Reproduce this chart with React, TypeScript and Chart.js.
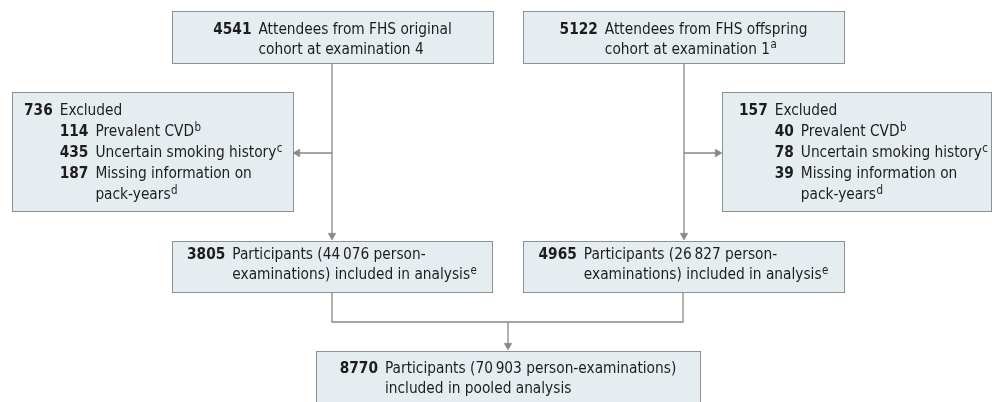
import React, { useEffect, useRef } from "react";
import { Chart, registerables } from "chart.js";

Chart.register(...registerables);

// ---- content ----
const boxCounts = [4541, 5122, 736, 157, 3805, 4965, 8770];
const boxLabels: string[][] = [
  ["Attendees from FHS original", "cohort at examination 4"],
  ["Attendees from FHS offspring", "cohort at examination 1"],
  ["Excluded"],
  ["Excluded"],
  ["Participants (44\u2009076 person-", "examinations) included in analysis"],
  ["Participants (26\u2009827 person-", "examinations) included in analysis"],
  ["Participants (70\u2009903 person-examinations)", "included in pooled analysis"],
];
const boxSups = ["", "a", "", "", "e", "e", ""];
const exclusionCountsOriginal = [114, 435, 187];
const exclusionCountsOffspring = [40, 78, 39];
const exclusionLabels: string[][] = [
  ["Prevalent CVD"],
  ["Uncertain smoking history"],
  ["Missing information on", "pack-years"],
];
const exclusionSups = ["b", "c", "d"];

// ---- layout (in chart value units = px) ----
const boxX0 = [172, 523, 12, 722, 172, 523, 316];
const boxX1 = [493, 844, 293, 991, 492, 844, 700];
const boxY0 = [11, 11, 92, 92, 241, 241, 351];
const boxY1 = [63, 63, 211, 211, 292, 292, 412];
const boxAlign = ["center", "center", "left", "left", "center", "center", "center"];
const boxTextX = [0, 0, 24, 739, 0, 0, 0];
const boxBaseline = [34, 34, 115, 115, 259, 259, 373];
const boxLineH = [19.5, 19.5, 21, 21, 20, 20, 20];

const connectors: { x: number; y: number }[][] = [
  [{ x: 332, y: 63 }, { x: 332, y: 236 }],
  [{ x: 332, y: 153 }, { x: 298, y: 153 }],
  [{ x: 684, y: 63 }, { x: 684, y: 236 }],
  [{ x: 684, y: 153 }, { x: 717, y: 153 }],
  [{ x: 332, y: 292 }, { x: 332, y: 322 }, { x: 683, y: 322 }, { x: 683, y: 292 }],
  [{ x: 508, y: 322 }, { x: 508, y: 346 }],
];
const arrowPoints = [
  { x: 332, y: 235.5 },
  { x: 297.5, y: 153 },
  { x: 684, y: 235.5 },
  { x: 717.5, y: 153 },
  { x: 508, y: 345.5 },
];
const arrowRotations = [180, 270, 180, 90, 180];

const FONT_FAMILY = '"Liberation Sans Narrow", "DejaVu Sans Condensed", "Noto Sans", sans-serif';
const FONT_SIZE = 16;
const SUP_SIZE = 12;
const GAP = 7;
const WIDTH_SCALE = 0.955;
const TEXT_COLOR = "#1f1c1d";
const BOX_FILL = "#e6edf1";
const BOX_STROKE = "#8d9195";
const LINE_COLOR = "#888888";

function fontStr(bold: boolean, size: number) {
  return `${bold ? "bold " : ""}${size}px ${FONT_FAMILY}`;
}

function tw(ctx: CanvasRenderingContext2D, text: string) {
  return ctx.measureText(text).width * WIDTH_SCALE;
}

function put(ctx: CanvasRenderingContext2D, text: string, x: number, y: number) {
  ctx.fillText(text, x, y, tw(ctx, text));
}

function drawLabelLine(ctx: CanvasRenderingContext2D, text: string, sup: string, x: number, y: number) {
  ctx.font = fontStr(false, FONT_SIZE);
  put(ctx, text, x, y);
  if (sup) {
    const w = tw(ctx, text);
    ctx.font = fontStr(false, SUP_SIZE);
    put(ctx, sup, x + w + 0.5, y - 5.5);
  }
}

function labelWidth(ctx: CanvasRenderingContext2D, text: string, sup: string) {
  ctx.font = fontStr(false, FONT_SIZE);
  let w = tw(ctx, text);
  if (sup) {
    ctx.font = fontStr(false, SUP_SIZE);
    w += tw(ctx, sup) + 0.5;
  }
  return w;
}

const flowPlugin = {
  id: "flowBoxes",
  beforeDatasetsDraw(chart: any) {
    const { ctx, scales } = chart;
    const sx = scales.x;
    const sy = scales.y;
    ctx.save();
    for (let i = 0; i < boxCounts.length; i++) {
      const x0 = Math.round(sx.getPixelForValue(boxX0[i])) + 0.5;
      const x1 = Math.round(sx.getPixelForValue(boxX1[i])) + 0.5;
      const y0 = Math.round(sy.getPixelForValue(boxY0[i])) + 0.5;
      const y1 = Math.round(sy.getPixelForValue(boxY1[i])) + 0.5;
      ctx.fillStyle = BOX_FILL;
      ctx.fillRect(x0, y0, x1 - x0, y1 - y0);
      ctx.strokeStyle = BOX_STROKE;
      ctx.lineWidth = 1;
      ctx.strokeRect(x0, y0, x1 - x0, y1 - y0);
    }
    ctx.restore();
  },
  afterDatasetsDraw(chart: any) {
    const { ctx, scales } = chart;
    const sx = scales.x;
    const sy = scales.y;
    ctx.save();
    ctx.fillStyle = TEXT_COLOR;
    ctx.textBaseline = "alphabetic";
    ctx.textAlign = "left";
    for (let i = 0; i < boxCounts.length; i++) {
      const num = String(boxCounts[i]);
      ctx.font = fontStr(true, FONT_SIZE);
      const numW = tw(ctx, num);
      const lines = boxLabels[i];
      const lh = boxLineH[i];
      const baseY = sy.getPixelForValue(boxBaseline[i]);
      let startX: number;
      if (boxAlign[i] === "center") {
        let maxW = 0;
        lines.forEach((l, k) => {
          maxW = Math.max(maxW, labelWidth(ctx, l, k === lines.length - 1 ? boxSups[i] : ""));
        });
        const blockW = numW + GAP + maxW;
        const cx = (sx.getPixelForValue(boxX0[i]) + sx.getPixelForValue(boxX1[i])) / 2;
        startX = cx - blockW / 2;
      } else {
        startX = sx.getPixelForValue(boxTextX[i]);
      }
      ctx.font = fontStr(true, FONT_SIZE);
      put(ctx, num, startX, baseY);
      const labelX = startX + numW + GAP;
      lines.forEach((l, k) => {
        drawLabelLine(ctx, l, k === lines.length - 1 ? boxSups[i] : "", labelX, baseY + k * lh);
      });
      if (i === 2 || i === 3) {
        const counts = i === 2 ? exclusionCountsOriginal : exclusionCountsOffspring;
        let row = 1;
        counts.forEach((c, j) => {
          const sub = String(c);
          ctx.font = fontStr(true, FONT_SIZE);
          const subW = tw(ctx, sub);
          const y = baseY + row * lh;
          put(ctx, sub, labelX, y);
          const subLabelX = labelX + subW + GAP;
          const sl = exclusionLabels[j];
          sl.forEach((t, k) => {
            drawLabelLine(ctx, t, k === sl.length - 1 ? exclusionSups[j] : "", subLabelX, baseY + (row + k) * lh);
          });
          row += sl.length;
        });
      }
    }
    ctx.restore();
  },
};

export default function App() {
  const ref = useRef<HTMLCanvasElement | null>(null);
  useEffect(() => {
    document.body.style.margin = "0";
    if (!ref.current) return;
    const datasets: any[] = connectors.map((pts) => ({
      type: "scatter",
      data: pts,
      showLine: true,
      borderColor: LINE_COLOR,
      borderWidth: 1.3,
      pointRadius: 0,
      fill: false,
      tension: 0,
    }));
    datasets.push({
      type: "scatter",
      data: arrowPoints,
      showLine: false,
      pointStyle: "triangle",
      pointRadius: 4.5,
      rotation: arrowRotations,
      backgroundColor: LINE_COLOR,
      borderColor: LINE_COLOR,
      borderWidth: 0.5,
    });
    const chart = new Chart(ref.current, {
      type: "scatter",
      data: { datasets },
      options: {
        animation: false,
        responsive: false,
        maintainAspectRatio: false,
        devicePixelRatio: 1,
        layout: { padding: 0, autoPadding: false },
        events: [],
        scales: {
          x: { type: "linear", min: 0, max: 992, display: false },
          y: { type: "linear", min: 0, max: 402, reverse: true, display: false },
        },
        plugins: { legend: { display: false }, tooltip: { enabled: false } },
      } as any,
      plugins: [flowPlugin],
    });
    return () => chart.destroy();
  }, []);
  return (
    <div style={{ position: "fixed", left: 0, top: 0, width: 992, height: 402, background: "#fff" }}>
      <canvas ref={ref} width={992} height={402} style={{ width: 992, height: 402 }} />
    </div>
  );
}
